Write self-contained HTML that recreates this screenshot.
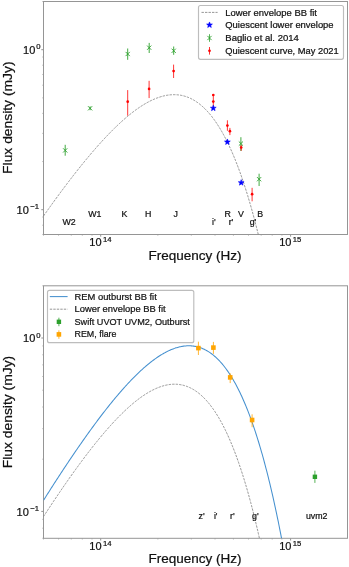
<!DOCTYPE html>
<html><head><meta charset="utf-8"><title>SED</title>
<style>
html,body{margin:0;padding:0;background:#fff;}
svg{display:block;}
text{font-family:"Liberation Sans",sans-serif;fill:#111;stroke:#111;stroke-width:0.22px;}
</style></head><body>
<svg width="349" height="567" viewBox="0 0 349 567">
<rect width="349" height="567" fill="#fff"/>
<g opacity="0.999">
<defs><clipPath id="cp1"><rect x="43.5" y="1.5" width="304.0" height="233.0"/></clipPath></defs>
<line x1="43.53" y1="234.50" x2="43.53" y2="235.80" stroke="#999" stroke-width="0.6"/>
<line x1="58.57" y1="234.50" x2="58.57" y2="235.80" stroke="#999" stroke-width="0.6"/>
<line x1="71.28" y1="234.50" x2="71.28" y2="235.80" stroke="#999" stroke-width="0.6"/>
<line x1="82.30" y1="234.50" x2="82.30" y2="235.80" stroke="#999" stroke-width="0.6"/>
<line x1="92.01" y1="234.50" x2="92.01" y2="235.80" stroke="#999" stroke-width="0.6"/>
<line x1="100.70" y1="234.50" x2="100.70" y2="236.70" stroke="#777" stroke-width="0.8"/>
<line x1="157.87" y1="234.50" x2="157.87" y2="235.80" stroke="#999" stroke-width="0.6"/>
<line x1="191.31" y1="234.50" x2="191.31" y2="235.80" stroke="#999" stroke-width="0.6"/>
<line x1="215.03" y1="234.50" x2="215.03" y2="235.80" stroke="#999" stroke-width="0.6"/>
<line x1="233.43" y1="234.50" x2="233.43" y2="235.80" stroke="#999" stroke-width="0.6"/>
<line x1="248.47" y1="234.50" x2="248.47" y2="235.80" stroke="#999" stroke-width="0.6"/>
<line x1="261.18" y1="234.50" x2="261.18" y2="235.80" stroke="#999" stroke-width="0.6"/>
<line x1="272.20" y1="234.50" x2="272.20" y2="235.80" stroke="#999" stroke-width="0.6"/>
<line x1="281.91" y1="234.50" x2="281.91" y2="235.80" stroke="#999" stroke-width="0.6"/>
<line x1="290.60" y1="234.50" x2="290.60" y2="236.70" stroke="#777" stroke-width="0.8"/>
<line x1="42.20" y1="234.48" x2="43.50" y2="234.48" stroke="#999" stroke-width="0.6"/>
<line x1="42.20" y1="225.21" x2="43.50" y2="225.21" stroke="#999" stroke-width="0.6"/>
<line x1="42.20" y1="217.02" x2="43.50" y2="217.02" stroke="#999" stroke-width="0.6"/>
<line x1="41.30" y1="209.70" x2="43.50" y2="209.70" stroke="#777" stroke-width="0.8"/>
<line x1="42.20" y1="161.54" x2="43.50" y2="161.54" stroke="#999" stroke-width="0.6"/>
<line x1="42.20" y1="133.36" x2="43.50" y2="133.36" stroke="#999" stroke-width="0.6"/>
<line x1="42.20" y1="113.37" x2="43.50" y2="113.37" stroke="#999" stroke-width="0.6"/>
<line x1="42.20" y1="97.86" x2="43.50" y2="97.86" stroke="#999" stroke-width="0.6"/>
<line x1="42.20" y1="85.20" x2="43.50" y2="85.20" stroke="#999" stroke-width="0.6"/>
<line x1="42.20" y1="74.48" x2="43.50" y2="74.48" stroke="#999" stroke-width="0.6"/>
<line x1="42.20" y1="65.21" x2="43.50" y2="65.21" stroke="#999" stroke-width="0.6"/>
<line x1="42.20" y1="57.02" x2="43.50" y2="57.02" stroke="#999" stroke-width="0.6"/>
<line x1="41.30" y1="49.70" x2="43.50" y2="49.70" stroke="#777" stroke-width="0.8"/>
<line x1="42.20" y1="1.54" x2="43.50" y2="1.54" stroke="#999" stroke-width="0.6"/>
<rect x="43.5" y="1.5" width="304.0" height="233.0" fill="none" stroke="#959595" stroke-width="1"/>
<g clip-path="url(#cp1)">
<path d="M43.50 216.00 L44.26 214.92 L45.02 213.85 L45.79 212.77 L46.55 211.70 L47.31 210.63 L48.07 209.56 L48.83 208.49 L49.60 207.43 L50.36 206.37 L51.12 205.31 L51.88 204.25 L52.64 203.20 L53.40 202.14 L54.17 201.09 L54.93 200.05 L55.69 199.00 L56.45 197.96 L57.21 196.92 L57.98 195.88 L58.74 194.84 L59.50 193.81 L60.26 192.78 L61.02 191.75 L61.79 190.73 L62.55 189.70 L63.31 188.68 L64.07 187.67 L64.83 186.65 L65.60 185.64 L66.36 184.63 L67.12 183.63 L67.88 182.62 L68.64 181.62 L69.40 180.63 L70.17 179.63 L70.93 178.64 L71.69 177.65 L72.45 176.67 L73.21 175.68 L73.98 174.70 L74.74 173.73 L75.50 172.76 L76.26 171.79 L77.02 170.82 L77.79 169.86 L78.55 168.90 L79.31 167.94 L80.07 166.99 L80.83 166.04 L81.60 165.09 L82.36 164.15 L83.12 163.21 L83.88 162.28 L84.64 161.35 L85.40 160.42 L86.17 159.50 L86.93 158.58 L87.69 157.66 L88.45 156.75 L89.21 155.84 L89.98 154.93 L90.74 154.03 L91.50 153.14 L92.26 152.25 L93.02 151.36 L93.79 150.47 L94.55 149.59 L95.31 148.72 L96.07 147.85 L96.83 146.98 L97.60 146.12 L98.36 145.26 L99.12 144.41 L99.88 143.56 L100.64 142.71 L101.40 141.88 L102.17 141.04 L102.93 140.21 L103.69 139.39 L104.45 138.57 L105.21 137.75 L105.98 136.94 L106.74 136.14 L107.50 135.34 L108.26 134.54 L109.02 133.75 L109.79 132.97 L110.55 132.19 L111.31 131.42 L112.07 130.65 L112.83 129.89 L113.60 129.14 L114.36 128.39 L115.12 127.64 L115.88 126.90 L116.64 126.17 L117.40 125.44 L118.17 124.72 L118.93 124.01 L119.69 123.30 L120.45 122.60 L121.21 121.90 L121.98 121.21 L122.74 120.53 L123.50 119.85 L124.26 119.19 L125.02 118.52 L125.79 117.87 L126.55 117.22 L127.31 116.58 L128.07 115.94 L128.83 115.31 L129.60 114.69 L130.36 114.08 L131.12 113.48 L131.88 112.88 L132.64 112.29 L133.40 111.71 L134.17 111.13 L134.93 110.56 L135.69 110.00 L136.45 109.45 L137.21 108.91 L137.98 108.38 L138.74 107.85 L139.50 107.33 L140.26 106.82 L141.02 106.32 L141.79 105.83 L142.55 105.35 L143.31 104.87 L144.07 104.41 L144.83 103.95 L145.60 103.51 L146.36 103.07 L147.12 102.64 L147.88 102.23 L148.64 101.82 L149.40 101.42 L150.17 101.03 L150.93 100.65 L151.69 100.29 L152.45 99.93 L153.21 99.58 L153.98 99.25 L154.74 98.92 L155.50 98.61 L156.26 98.30 L157.02 98.01 L157.79 97.73 L158.55 97.46 L159.31 97.20 L160.07 96.95 L160.83 96.72 L161.60 96.50 L162.36 96.29 L163.12 96.09 L163.88 95.90 L164.64 95.73 L165.40 95.57 L166.17 95.42 L166.93 95.28 L167.69 95.16 L168.45 95.05 L169.21 94.96 L169.98 94.87 L170.74 94.80 L171.50 94.75 L172.26 94.71 L173.02 94.68 L173.79 94.67 L174.55 94.68 L175.31 94.69 L176.07 94.73 L176.83 94.77 L177.60 94.84 L178.36 94.91 L179.12 95.01 L179.88 95.12 L180.64 95.24 L181.40 95.39 L182.17 95.54 L182.93 95.72 L183.69 95.91 L184.45 96.12 L185.21 96.34 L185.98 96.59 L186.74 96.85 L187.50 97.12 L188.26 97.42 L189.02 97.73 L189.79 98.07 L190.55 98.42 L191.31 98.79 L192.07 99.17 L192.83 99.58 L193.60 100.01 L194.36 100.46 L195.12 100.92 L195.88 101.41 L196.64 101.91 L197.40 102.44 L198.17 102.99 L198.93 103.56 L199.69 104.15 L200.45 104.76 L201.21 105.39 L201.98 106.05 L202.74 106.72 L203.50 107.42 L204.26 108.14 L205.02 108.89 L205.79 109.66 L206.55 110.45 L207.31 111.26 L208.07 112.10 L208.83 112.96 L209.60 113.85 L210.36 114.76 L211.12 115.70 L211.88 116.66 L212.64 117.65 L213.40 118.66 L214.17 119.70 L214.93 120.76 L215.69 121.85 L216.45 122.97 L217.21 124.11 L217.98 125.29 L218.74 126.49 L219.50 127.71 L220.26 128.97 L221.02 130.25 L221.79 131.57 L222.55 132.91 L223.31 134.28 L224.07 135.68 L224.83 137.11 L225.60 138.58 L226.36 140.07 L227.12 141.59 L227.88 143.14 L228.64 144.73 L229.40 146.35 L230.17 148.00 L230.93 149.68 L231.69 151.39 L232.45 153.14 L233.21 154.92 L233.98 156.74 L234.74 158.59 L235.50 160.47 L236.26 162.39 L237.02 164.35 L237.79 166.33 L238.55 168.36 L239.31 170.42 L240.07 172.52 L240.83 174.65 L241.60 176.83 L242.36 179.04 L243.12 181.28 L243.88 183.57 L244.64 185.89 L245.40 188.26 L246.17 190.66 L246.93 193.11 L247.69 195.59 L248.45 198.11 L249.21 200.68 L249.98 203.28 L250.74 205.93 L251.50 208.62 L252.26 211.36 L253.02 214.13 L253.79 216.95 L254.55 219.82 L255.31 222.72 L256.07 225.68 L256.83 228.67 L257.60 231.72 L258.36 234.81" fill="none" stroke="#7c7c7c" stroke-width="0.8" stroke-dasharray="2.4 1.1"/>
</g>
<line x1="65.20" y1="144.80" x2="65.20" y2="155.70" stroke="#2ca02c" stroke-width="0.90"/>
<path d="M63.10 148.30 L67.30 152.50 M63.10 152.50 L67.30 148.30" stroke="#2ca02c" stroke-width="0.9" fill="none"/>
<line x1="90.10" y1="106.40" x2="90.10" y2="110.20" stroke="#2ca02c" stroke-width="0.90"/>
<path d="M88.00 106.20 L92.20 110.40 M88.00 110.40 L92.20 106.20" stroke="#2ca02c" stroke-width="0.9" fill="none"/>
<line x1="127.70" y1="48.50" x2="127.70" y2="59.80" stroke="#2ca02c" stroke-width="0.90"/>
<path d="M125.60 51.90 L129.80 56.10 M125.60 56.10 L129.80 51.90" stroke="#2ca02c" stroke-width="0.9" fill="none"/>
<line x1="149.20" y1="42.90" x2="149.20" y2="53.00" stroke="#2ca02c" stroke-width="0.90"/>
<path d="M147.10 45.60 L151.30 49.80 M147.10 49.80 L151.30 45.60" stroke="#2ca02c" stroke-width="0.9" fill="none"/>
<line x1="173.70" y1="46.50" x2="173.70" y2="54.80" stroke="#2ca02c" stroke-width="0.90"/>
<path d="M171.60 48.70 L175.80 52.90 M171.60 52.90 L175.80 48.70" stroke="#2ca02c" stroke-width="0.9" fill="none"/>
<line x1="240.90" y1="137.20" x2="240.90" y2="151.00" stroke="#2ca02c" stroke-width="0.90"/>
<path d="M238.80 141.50 L243.00 145.70 M238.80 145.70 L243.00 141.50" stroke="#2ca02c" stroke-width="0.9" fill="none"/>
<line x1="259.10" y1="173.70" x2="259.10" y2="186.00" stroke="#2ca02c" stroke-width="0.90"/>
<path d="M257.00 177.10 L261.20 181.30 M257.00 181.30 L261.20 177.10" stroke="#2ca02c" stroke-width="0.9" fill="none"/>
<line x1="127.70" y1="90.10" x2="127.70" y2="115.70" stroke="#ff0000" stroke-width="0.80"/>
<circle cx="127.70" cy="101.70" r="1.35" fill="#ff0000"/>
<line x1="149.10" y1="80.80" x2="149.10" y2="98.10" stroke="#ff0000" stroke-width="0.80"/>
<circle cx="149.10" cy="88.90" r="1.35" fill="#ff0000"/>
<line x1="173.60" y1="64.60" x2="173.60" y2="78.00" stroke="#ff0000" stroke-width="0.80"/>
<circle cx="173.60" cy="71.10" r="1.35" fill="#ff0000"/>
<line x1="213.30" y1="94.00" x2="213.30" y2="98.00" stroke="#ff0000" stroke-width="0.80"/>
<circle cx="213.30" cy="95.00" r="1.35" fill="#ff0000"/>
<line x1="213.30" y1="98.00" x2="213.30" y2="108.00" stroke="#ff0000" stroke-width="0.80"/>
<circle cx="213.30" cy="101.60" r="1.35" fill="#ff0000"/>
<line x1="227.40" y1="120.30" x2="227.40" y2="130.80" stroke="#ff0000" stroke-width="0.80"/>
<circle cx="227.40" cy="125.60" r="1.35" fill="#ff0000"/>
<line x1="229.90" y1="127.90" x2="229.90" y2="135.10" stroke="#ff0000" stroke-width="0.80"/>
<circle cx="229.90" cy="131.20" r="1.35" fill="#ff0000"/>
<line x1="241.20" y1="145.00" x2="241.20" y2="150.80" stroke="#ff0000" stroke-width="0.80"/>
<circle cx="241.20" cy="147.50" r="1.35" fill="#ff0000"/>
<line x1="252.10" y1="187.80" x2="252.10" y2="201.30" stroke="#ff0000" stroke-width="0.80"/>
<circle cx="252.10" cy="194.20" r="1.35" fill="#ff0000"/>
<polygon points="213.30,105.15 214.05,107.16 216.20,107.26 214.52,108.60 215.09,110.67 213.30,109.48 211.51,110.67 212.08,108.60 210.40,107.26 212.55,107.16" fill="#0000ff" stroke="#0000ff" stroke-width="0.6" stroke-linejoin="miter"/>
<polygon points="227.40,138.95 228.15,140.96 230.30,141.06 228.62,142.40 229.19,144.47 227.40,143.28 225.61,144.47 226.18,142.40 224.50,141.06 226.65,140.96" fill="#0000ff" stroke="#0000ff" stroke-width="0.6" stroke-linejoin="miter"/>
<polygon points="241.20,179.65 241.95,181.66 244.10,181.76 242.42,183.10 242.99,185.17 241.20,183.98 239.41,185.17 239.98,183.10 238.30,181.76 240.45,181.66" fill="#0000ff" stroke="#0000ff" stroke-width="0.6" stroke-linejoin="miter"/>
<text x="62.4" y="225.0" font-size="8.8">W2</text>
<text x="88.3" y="217.0" font-size="8.8">W1</text>
<text x="121.6" y="217.0" font-size="8.8">K</text>
<text x="145.1" y="217.0" font-size="8.8">H</text>
<text x="173.4" y="217.0" font-size="8.8">J</text>
<text x="212.0" y="224.7" font-size="8.8">i'</text>
<text x="224.5" y="216.8" font-size="8.8">R</text>
<text x="228.7" y="224.7" font-size="8.8">r'</text>
<text x="238.1" y="216.8" font-size="8.8">V</text>
<text x="249.7" y="224.7" font-size="8.8">g'</text>
<text x="257.2" y="216.8" font-size="8.8">B</text>
<rect x="198.5" y="5.5" width="145" height="53.8" rx="2" ry="2" fill="#fff" fill-opacity="0.8" stroke="#bdbdbd" stroke-width="1.15"/>
<line x1="201.5" y1="12.4" x2="217.6" y2="12.4" stroke="#7c7c7c" stroke-width="0.8" stroke-dasharray="2.4 1.1"/>
<polygon points="209.50,21.95 210.25,23.96 212.40,24.06 210.72,25.40 211.29,27.47 209.50,26.28 207.71,27.47 208.28,25.40 206.60,24.06 208.75,23.96" fill="#0000ff" stroke="#0000ff" stroke-width="0.6" stroke-linejoin="miter"/>
<line x1="209.50" y1="34.20" x2="209.50" y2="41.80" stroke="#2ca02c" stroke-width="0.80"/>
<path d="M207.40 35.90 L211.60 40.10 M207.40 40.10 L211.60 35.90" stroke="#2ca02c" stroke-width="0.9" fill="none"/>
<line x1="209.50" y1="47.00" x2="209.50" y2="54.60" stroke="#ff0000" stroke-width="0.80"/>
<circle cx="209.50" cy="50.80" r="1.35" fill="#ff0000"/>
<text x="225.3" y="15.5" font-size="9.3" textLength="91.7" lengthAdjust="spacingAndGlyphs">Lower envelope BB fit</text>
<text x="225.3" y="28.3" font-size="9.3" textLength="108.3" lengthAdjust="spacingAndGlyphs">Quiescent lower envelope</text>
<text x="225.3" y="41.2" font-size="9.3" textLength="73.5" lengthAdjust="spacingAndGlyphs">Baglio et al. 2014</text>
<text x="225.3" y="54.0" font-size="9.3" textLength="113.4" lengthAdjust="spacingAndGlyphs">Quiescent curve, May 2021</text>
<text x="101.6" y="246.1" font-size="11" text-anchor="end">10</text>
<text x="102.9" y="241.9" font-size="7.7">14</text>
<text x="291.5" y="246.1" font-size="11" text-anchor="end">10</text>
<text x="292.8" y="241.9" font-size="7.7">15</text>
<text x="35.3" y="53.9" font-size="11" text-anchor="end">10</text>
<text x="36.3" y="49.3" font-size="7.7">0</text>
<text x="28.8" y="213.9" font-size="11" text-anchor="end">10</text>
<text x="30.2" y="209.3" font-size="7.7">−1</text>
<text x="195" y="259.5" font-size="13" text-anchor="middle" textLength="93" lengthAdjust="spacingAndGlyphs">Frequency (Hz)</text>
<text transform="translate(12.1,117.7) rotate(-90)" font-size="13.5" text-anchor="middle" textLength="112.4" lengthAdjust="spacingAndGlyphs">Flux density (mJy)</text>
<defs><clipPath id="cp2"><rect x="43.5" y="285.8" width="304.0" height="252.5"/></clipPath></defs>
<line x1="43.53" y1="538.30" x2="43.53" y2="539.60" stroke="#999" stroke-width="0.6"/>
<line x1="58.57" y1="538.30" x2="58.57" y2="539.60" stroke="#999" stroke-width="0.6"/>
<line x1="71.28" y1="538.30" x2="71.28" y2="539.60" stroke="#999" stroke-width="0.6"/>
<line x1="82.30" y1="538.30" x2="82.30" y2="539.60" stroke="#999" stroke-width="0.6"/>
<line x1="92.01" y1="538.30" x2="92.01" y2="539.60" stroke="#999" stroke-width="0.6"/>
<line x1="100.70" y1="538.30" x2="100.70" y2="540.50" stroke="#777" stroke-width="0.8"/>
<line x1="157.87" y1="538.30" x2="157.87" y2="539.60" stroke="#999" stroke-width="0.6"/>
<line x1="191.31" y1="538.30" x2="191.31" y2="539.60" stroke="#999" stroke-width="0.6"/>
<line x1="215.03" y1="538.30" x2="215.03" y2="539.60" stroke="#999" stroke-width="0.6"/>
<line x1="233.43" y1="538.30" x2="233.43" y2="539.60" stroke="#999" stroke-width="0.6"/>
<line x1="248.47" y1="538.30" x2="248.47" y2="539.60" stroke="#999" stroke-width="0.6"/>
<line x1="261.18" y1="538.30" x2="261.18" y2="539.60" stroke="#999" stroke-width="0.6"/>
<line x1="272.20" y1="538.30" x2="272.20" y2="539.60" stroke="#999" stroke-width="0.6"/>
<line x1="281.91" y1="538.30" x2="281.91" y2="539.60" stroke="#999" stroke-width="0.6"/>
<line x1="290.60" y1="538.30" x2="290.60" y2="540.50" stroke="#777" stroke-width="0.8"/>
<line x1="42.20" y1="538.26" x2="43.50" y2="538.26" stroke="#999" stroke-width="0.6"/>
<line x1="42.20" y1="528.20" x2="43.50" y2="528.20" stroke="#999" stroke-width="0.6"/>
<line x1="42.20" y1="519.33" x2="43.50" y2="519.33" stroke="#999" stroke-width="0.6"/>
<line x1="41.30" y1="511.40" x2="43.50" y2="511.40" stroke="#777" stroke-width="0.8"/>
<line x1="42.20" y1="459.20" x2="43.50" y2="459.20" stroke="#999" stroke-width="0.6"/>
<line x1="42.20" y1="428.67" x2="43.50" y2="428.67" stroke="#999" stroke-width="0.6"/>
<line x1="42.20" y1="407.00" x2="43.50" y2="407.00" stroke="#999" stroke-width="0.6"/>
<line x1="42.20" y1="390.20" x2="43.50" y2="390.20" stroke="#999" stroke-width="0.6"/>
<line x1="42.20" y1="376.47" x2="43.50" y2="376.47" stroke="#999" stroke-width="0.6"/>
<line x1="42.20" y1="364.86" x2="43.50" y2="364.86" stroke="#999" stroke-width="0.6"/>
<line x1="42.20" y1="354.80" x2="43.50" y2="354.80" stroke="#999" stroke-width="0.6"/>
<line x1="42.20" y1="345.93" x2="43.50" y2="345.93" stroke="#999" stroke-width="0.6"/>
<line x1="41.30" y1="338.00" x2="43.50" y2="338.00" stroke="#777" stroke-width="0.8"/>
<line x1="42.20" y1="285.80" x2="43.50" y2="285.80" stroke="#999" stroke-width="0.6"/>
<rect x="43.5" y="285.8" width="304.0" height="252.5" fill="none" stroke="#959595" stroke-width="1"/>
<g clip-path="url(#cp2)">
<path d="M43.50 500.33 L44.26 499.12 L45.02 497.91 L45.79 496.71 L46.55 495.50 L47.31 494.30 L48.07 493.10 L48.83 491.91 L49.60 490.71 L50.36 489.52 L51.12 488.33 L51.88 487.14 L52.64 485.95 L53.40 484.77 L54.17 483.58 L54.93 482.40 L55.69 481.22 L56.45 480.05 L57.21 478.87 L57.98 477.70 L58.74 476.53 L59.50 475.36 L60.26 474.20 L61.02 473.03 L61.79 471.87 L62.55 470.71 L63.31 469.56 L64.07 468.40 L64.83 467.25 L65.60 466.10 L66.36 464.96 L67.12 463.81 L67.88 462.67 L68.64 461.53 L69.40 460.40 L70.17 459.26 L70.93 458.13 L71.69 457.00 L72.45 455.88 L73.21 454.75 L73.98 453.63 L74.74 452.51 L75.50 451.40 L76.26 450.29 L77.02 449.18 L77.79 448.07 L78.55 446.97 L79.31 445.87 L80.07 444.77 L80.83 443.68 L81.60 442.59 L82.36 441.50 L83.12 440.41 L83.88 439.33 L84.64 438.25 L85.40 437.18 L86.17 436.10 L86.93 435.03 L87.69 433.97 L88.45 432.91 L89.21 431.85 L89.98 430.79 L90.74 429.74 L91.50 428.69 L92.26 427.65 L93.02 426.61 L93.79 425.57 L94.55 424.54 L95.31 423.51 L96.07 422.48 L96.83 421.46 L97.60 420.44 L98.36 419.42 L99.12 418.41 L99.88 417.41 L100.64 416.40 L101.40 415.40 L102.17 414.41 L102.93 413.42 L103.69 412.43 L104.45 411.45 L105.21 410.47 L105.98 409.50 L106.74 408.53 L107.50 407.57 L108.26 406.61 L109.02 405.65 L109.79 404.70 L110.55 403.76 L111.31 402.82 L112.07 401.88 L112.83 400.95 L113.60 400.02 L114.36 399.10 L115.12 398.19 L115.88 397.27 L116.64 396.37 L117.40 395.47 L118.17 394.57 L118.93 393.68 L119.69 392.80 L120.45 391.92 L121.21 391.04 L121.98 390.17 L122.74 389.31 L123.50 388.45 L124.26 387.60 L125.02 386.76 L125.79 385.92 L126.55 385.08 L127.31 384.26 L128.07 383.44 L128.83 382.62 L129.60 381.81 L130.36 381.01 L131.12 380.21 L131.88 379.42 L132.64 378.64 L133.40 377.86 L134.17 377.09 L134.93 376.33 L135.69 375.57 L136.45 374.82 L137.21 374.08 L137.98 373.35 L138.74 372.62 L139.50 371.90 L140.26 371.19 L141.02 370.48 L141.79 369.78 L142.55 369.09 L143.31 368.41 L144.07 367.73 L144.83 367.07 L145.60 366.41 L146.36 365.76 L147.12 365.11 L147.88 364.48 L148.64 363.85 L149.40 363.24 L150.17 362.63 L150.93 362.03 L151.69 361.44 L152.45 360.85 L153.21 360.28 L153.98 359.72 L154.74 359.16 L155.50 358.62 L156.26 358.08 L157.02 357.55 L157.79 357.04 L158.55 356.53 L159.31 356.03 L160.07 355.54 L160.83 355.07 L161.60 354.60 L162.36 354.14 L163.12 353.70 L163.88 353.26 L164.64 352.84 L165.40 352.43 L166.17 352.02 L166.93 351.63 L167.69 351.25 L168.45 350.88 L169.21 350.53 L169.98 350.18 L170.74 349.85 L171.50 349.53 L172.26 349.22 L173.02 348.92 L173.79 348.64 L174.55 348.37 L175.31 348.11 L176.07 347.86 L176.83 347.63 L177.60 347.41 L178.36 347.20 L179.12 347.01 L179.88 346.83 L180.64 346.66 L181.40 346.51 L182.17 346.37 L182.93 346.25 L183.69 346.14 L184.45 346.05 L185.21 345.97 L185.98 345.90 L186.74 345.85 L187.50 345.82 L188.26 345.80 L189.02 345.80 L189.79 345.81 L190.55 345.84 L191.31 345.89 L192.07 345.95 L192.83 346.03 L193.60 346.13 L194.36 346.24 L195.12 346.37 L195.88 346.52 L196.64 346.68 L197.40 346.86 L198.17 347.07 L198.93 347.28 L199.69 347.52 L200.45 347.78 L201.21 348.05 L201.98 348.35 L202.74 348.66 L203.50 349.00 L204.26 349.35 L205.02 349.72 L205.79 350.11 L206.55 350.53 L207.31 350.96 L208.07 351.42 L208.83 351.89 L209.60 352.39 L210.36 352.91 L211.12 353.45 L211.88 354.02 L212.64 354.60 L213.40 355.21 L214.17 355.84 L214.93 356.50 L215.69 357.17 L216.45 357.87 L217.21 358.60 L217.98 359.35 L218.74 360.12 L219.50 360.92 L220.26 361.74 L221.02 362.59 L221.79 363.47 L222.55 364.37 L223.31 365.29 L224.07 366.24 L224.83 367.22 L225.60 368.23 L226.36 369.26 L227.12 370.32 L227.88 371.41 L228.64 372.52 L229.40 373.66 L230.17 374.84 L230.93 376.04 L231.69 377.27 L232.45 378.53 L233.21 379.82 L233.98 381.14 L234.74 382.49 L235.50 383.87 L236.26 385.28 L237.02 386.73 L237.79 388.20 L238.55 389.71 L239.31 391.25 L240.07 392.82 L240.83 394.43 L241.60 396.06 L242.36 397.74 L243.12 399.44 L243.88 401.18 L244.64 402.96 L245.40 404.77 L246.17 406.62 L246.93 408.50 L247.69 410.42 L248.45 412.37 L249.21 414.36 L249.98 416.39 L250.74 418.46 L251.50 420.56 L252.26 422.70 L253.02 424.88 L253.79 427.10 L254.55 429.36 L255.31 431.66 L256.07 434.00 L256.83 436.38 L257.60 438.80 L258.36 441.27 L259.12 443.77 L259.88 446.32 L260.64 448.91 L261.40 451.54 L262.17 454.22 L262.93 456.94 L263.69 459.70 L264.45 462.51 L265.21 465.37 L265.98 468.27 L266.74 471.21 L267.50 474.20 L268.26 477.24 L269.02 480.33 L269.79 483.46 L270.55 486.65 L271.31 489.88 L272.07 493.16 L272.83 496.49 L273.60 499.87 L274.36 503.30 L275.12 506.78 L275.88 510.32 L276.64 513.90 L277.40 517.54 L278.17 521.23 L278.93 524.98 L279.69 528.78 L280.45 532.63 L281.21 536.54 L281.98 540.50" fill="none" stroke="#4590cf" stroke-width="1.05"/>
<path d="M43.50 516.58 L44.26 515.41 L45.02 514.24 L45.79 513.08 L46.55 511.91 L47.31 510.75 L48.07 509.59 L48.83 508.43 L49.60 507.28 L50.36 506.13 L51.12 504.98 L51.88 503.83 L52.64 502.68 L53.40 501.54 L54.17 500.40 L54.93 499.26 L55.69 498.13 L56.45 497.00 L57.21 495.87 L57.98 494.74 L58.74 493.61 L59.50 492.49 L60.26 491.37 L61.02 490.26 L61.79 489.14 L62.55 488.03 L63.31 486.93 L64.07 485.82 L64.83 484.72 L65.60 483.62 L66.36 482.53 L67.12 481.43 L67.88 480.34 L68.64 479.26 L69.40 478.17 L70.17 477.09 L70.93 476.02 L71.69 474.94 L72.45 473.87 L73.21 472.81 L73.98 471.74 L74.74 470.68 L75.50 469.63 L76.26 468.57 L77.02 467.52 L77.79 466.48 L78.55 465.43 L79.31 464.40 L80.07 463.36 L80.83 462.33 L81.60 461.30 L82.36 460.28 L83.12 459.26 L83.88 458.24 L84.64 457.23 L85.40 456.22 L86.17 455.22 L86.93 454.22 L87.69 453.22 L88.45 452.23 L89.21 451.24 L89.98 450.26 L90.74 449.28 L91.50 448.30 L92.26 447.33 L93.02 446.37 L93.79 445.41 L94.55 444.45 L95.31 443.50 L96.07 442.55 L96.83 441.61 L97.60 440.67 L98.36 439.73 L99.12 438.81 L99.88 437.88 L100.64 436.96 L101.40 436.05 L102.17 435.14 L102.93 434.24 L103.69 433.34 L104.45 432.45 L105.21 431.56 L105.98 430.68 L106.74 429.80 L107.50 428.93 L108.26 428.07 L109.02 427.21 L109.79 426.35 L110.55 425.51 L111.31 424.66 L112.07 423.83 L112.83 423.00 L113.60 422.17 L114.36 421.36 L115.12 420.55 L115.88 419.74 L116.64 418.94 L117.40 418.15 L118.17 417.36 L118.93 416.58 L119.69 415.81 L120.45 415.05 L121.21 414.29 L121.98 413.53 L122.74 412.79 L123.50 412.05 L124.26 411.32 L125.02 410.60 L125.79 409.88 L126.55 409.17 L127.31 408.47 L128.07 407.78 L128.83 407.09 L129.60 406.41 L130.36 405.74 L131.12 405.08 L131.88 404.43 L132.64 403.78 L133.40 403.14 L134.17 402.51 L134.93 401.89 L135.69 401.28 L136.45 400.68 L137.21 400.08 L137.98 399.50 L138.74 398.92 L139.50 398.35 L140.26 397.79 L141.02 397.24 L141.79 396.70 L142.55 396.17 L143.31 395.65 L144.07 395.14 L144.83 394.64 L145.60 394.15 L146.36 393.67 L147.12 393.20 L147.88 392.74 L148.64 392.29 L149.40 391.85 L150.17 391.42 L150.93 391.00 L151.69 390.59 L152.45 390.20 L153.21 389.81 L153.98 389.44 L154.74 389.08 L155.50 388.73 L156.26 388.39 L157.02 388.06 L157.79 387.75 L158.55 387.45 L159.31 387.16 L160.07 386.88 L160.83 386.62 L161.60 386.37 L162.36 386.13 L163.12 385.90 L163.88 385.69 L164.64 385.49 L165.40 385.31 L166.17 385.13 L166.93 384.98 L167.69 384.83 L168.45 384.70 L169.21 384.59 L169.98 384.49 L170.74 384.40 L171.50 384.33 L172.26 384.28 L173.02 384.24 L173.79 384.21 L174.55 384.21 L175.31 384.21 L176.07 384.24 L176.83 384.28 L177.60 384.33 L178.36 384.40 L179.12 384.49 L179.88 384.60 L180.64 384.72 L181.40 384.86 L182.17 385.02 L182.93 385.20 L183.69 385.39 L184.45 385.60 L185.21 385.83 L185.98 386.08 L186.74 386.35 L187.50 386.63 L188.26 386.94 L189.02 387.27 L189.79 387.61 L190.55 387.98 L191.31 388.36 L192.07 388.77 L192.83 389.19 L193.60 389.64 L194.36 390.11 L195.12 390.60 L195.88 391.11 L196.64 391.64 L197.40 392.19 L198.17 392.77 L198.93 393.37 L199.69 393.99 L200.45 394.64 L201.21 395.30 L201.98 396.00 L202.74 396.71 L203.50 397.45 L204.26 398.21 L205.02 399.00 L205.79 399.81 L206.55 400.65 L207.31 401.52 L208.07 402.41 L208.83 403.32 L209.60 404.26 L210.36 405.23 L211.12 406.22 L211.88 407.24 L212.64 408.29 L213.40 409.37 L214.17 410.47 L214.93 411.61 L215.69 412.77 L216.45 413.96 L217.21 415.17 L217.98 416.42 L218.74 417.70 L219.50 419.01 L220.26 420.35 L221.02 421.71 L221.79 423.11 L222.55 424.54 L223.31 426.01 L224.07 427.50 L224.83 429.03 L225.60 430.59 L226.36 432.18 L227.12 433.80 L227.88 435.46 L228.64 437.16 L229.40 438.88 L230.17 440.64 L230.93 442.44 L231.69 444.27 L232.45 446.14 L233.21 448.04 L233.98 449.98 L234.74 451.96 L235.50 453.97 L236.26 456.02 L237.02 458.11 L237.79 460.24 L238.55 462.40 L239.31 464.61 L240.07 466.85 L240.83 469.13 L241.60 471.46 L242.36 473.82 L243.12 476.23 L243.88 478.67 L244.64 481.16 L245.40 483.69 L246.17 486.26 L246.93 488.88 L247.69 491.54 L248.45 494.24 L249.21 496.99 L249.98 499.78 L250.74 502.61 L251.50 505.49 L252.26 508.42 L253.02 511.39 L253.79 514.41 L254.55 517.48 L255.31 520.60 L256.07 523.76 L256.83 526.97 L257.60 530.23 L258.36 533.54 L259.12 536.90 L259.88 540.31" fill="none" stroke="#7c7c7c" stroke-width="0.8" stroke-dasharray="2.4 1.1"/>
</g>
<line x1="198.40" y1="341.70" x2="198.40" y2="355.00" stroke="#ffa500" stroke-width="0.80"/>
<rect x="196.10" y="345.80" width="4.60" height="4.60" fill="#ffa500"/>
<line x1="213.40" y1="341.90" x2="213.40" y2="353.90" stroke="#ffa500" stroke-width="0.80"/>
<rect x="211.10" y="345.30" width="4.60" height="4.60" fill="#ffa500"/>
<line x1="230.20" y1="373.30" x2="230.20" y2="383.10" stroke="#ffa500" stroke-width="0.80"/>
<rect x="227.90" y="375.10" width="4.60" height="4.60" fill="#ffa500"/>
<line x1="252.10" y1="414.30" x2="252.10" y2="427.20" stroke="#ffa500" stroke-width="0.80"/>
<rect x="249.80" y="417.70" width="4.60" height="4.60" fill="#ffa500"/>
<line x1="314.90" y1="470.70" x2="314.90" y2="482.90" stroke="#2ca02c" stroke-width="0.80"/>
<rect x="312.70" y="474.60" width="4.40" height="4.40" fill="#2ca02c"/>
<text x="198.6" y="519.1" font-size="8.8">z'</text>
<text x="213.9" y="519.1" font-size="8.8">i'</text>
<text x="230.1" y="519.1" font-size="8.8">r'</text>
<text x="252.0" y="519.1" font-size="8.8">g'</text>
<text x="305.9" y="518.9" font-size="8.8">uvm2</text>
<rect x="47.5" y="290.3" width="146.3" height="52.4" rx="2" ry="2" fill="#fff" fill-opacity="0.8" stroke="#bdbdbd" stroke-width="1.15"/>
<line x1="49.8" y1="296.6" x2="67.6" y2="296.6" stroke="#4590cf" stroke-width="1.05"/>
<line x1="49.8" y1="309.2" x2="67.6" y2="309.2" stroke="#7c7c7c" stroke-width="0.8" stroke-dasharray="2.4 1.1"/>
<line x1="58.90" y1="317.70" x2="58.90" y2="326.20" stroke="#2ca02c" stroke-width="0.80"/>
<rect x="56.70" y="319.60" width="4.40" height="4.40" fill="#2ca02c"/>
<line x1="58.90" y1="330.30" x2="58.90" y2="338.80" stroke="#ffa500" stroke-width="0.80"/>
<rect x="56.60" y="332.10" width="4.60" height="4.60" fill="#ffa500"/>
<text x="74.5" y="299.6" font-size="9.3" textLength="82.3" lengthAdjust="spacingAndGlyphs">REM outburst BB fit</text>
<text x="74.5" y="312.2" font-size="9.3" textLength="91.1" lengthAdjust="spacingAndGlyphs">Lower envelope BB fit</text>
<text x="74.5" y="324.8" font-size="9.3" textLength="115.4" lengthAdjust="spacingAndGlyphs">Swift UVOT UVM2, Outburst</text>
<text x="74.5" y="337.3" font-size="9.3" textLength="42.0" lengthAdjust="spacingAndGlyphs">REM, flare</text>
<text x="101.6" y="549.9" font-size="11" text-anchor="end">10</text>
<text x="102.9" y="545.7" font-size="7.7">14</text>
<text x="291.5" y="549.9" font-size="11" text-anchor="end">10</text>
<text x="292.8" y="545.7" font-size="7.7">15</text>
<text x="35.3" y="342.2" font-size="11" text-anchor="end">10</text>
<text x="36.3" y="337.6" font-size="7.7">0</text>
<text x="28.8" y="515.6" font-size="11" text-anchor="end">10</text>
<text x="30.2" y="511.0" font-size="7.7">−1</text>
<text x="195" y="563.3" font-size="13" text-anchor="middle" textLength="93" lengthAdjust="spacingAndGlyphs">Frequency (Hz)</text>
<text transform="translate(12.1,412) rotate(-90)" font-size="13.5" text-anchor="middle" textLength="112.4" lengthAdjust="spacingAndGlyphs">Flux density (mJy)</text>
</g></svg></body></html>
